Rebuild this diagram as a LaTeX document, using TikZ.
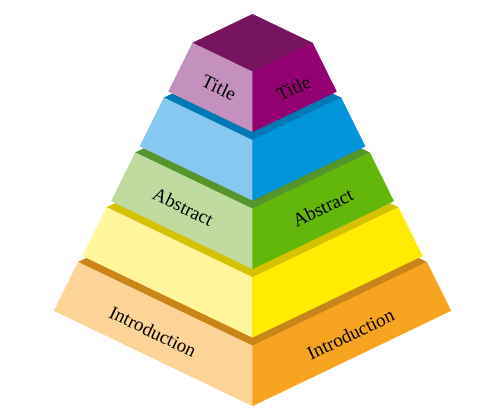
\documentclass[tikz,border=0pt]{standalone}
\usepackage{fontspec}
\setmainfont{Liberation Serif}
\usetikzlibrary{calc}
\definecolor{tTop}{HTML}{76145F}
\definecolor{tLeft}{HTML}{C490BE}
\definecolor{tRight}{HTML}{930070}
\definecolor{bTop}{HTML}{0079B4}
\definecolor{bLeft}{HTML}{86C8F1}
\definecolor{bRight}{HTML}{0095DA}
\definecolor{gTop}{HTML}{55952C}
\definecolor{gLeft}{HTML}{BFDBA0}
\definecolor{gRight}{HTML}{62B70A}
\definecolor{yTop}{HTML}{D5C200}
\definecolor{yLeft}{HTML}{FFF59A}
\definecolor{yRight}{HTML}{FFEC00}
\definecolor{oTop}{HTML}{C98518}
\definecolor{oLeft}{HTML}{FDD497}
\definecolor{oRight}{HTML}{F7A520}
\newcommand\pyrlayer[4]{%
  \pgfmathsetmacro\wt{60+28.6*#1}%
  \pgfmathsetmacro\wb{\wt+24}%
  \pgfmathsetmacro\yt{43+54.8*#1}%
  \pgfmathsetmacro\yb{\yt+48.5}%
  \pgfmathsetmacro\yback{\yt-0.48*\wt}%
  \pgfmathsetmacro\yfront{\yt+0.48*\wt}%
  \pgfmathsetmacro\ybfront{\yb+0.48*\wb}%
  \pgfmathsetmacro\xtl{252.5-\wt}%
  \pgfmathsetmacro\xtr{252.5+\wt}%
  \pgfmathsetmacro\xbl{252.5-\wb}%
  \pgfmathsetmacro\xbr{252.5+\wb}%
  \coordinate (l#1back) at (252.5,\yback);
  \coordinate (l#1tl) at (\xtl,\yt);
  \coordinate (l#1tr) at (\xtr,\yt);
  \coordinate (l#1tf) at (252.5,\yfront);
  \coordinate (l#1bl) at (\xbl,\yb);
  \coordinate (l#1br) at (\xbr,\yb);
  \coordinate (l#1bf) at (252.5,\ybfront);
  \filldraw[face=#2] (l#1back) -- (l#1tl) -- (l#1tf) -- (l#1tr) -- cycle;
  \filldraw[face=#3] (l#1tl) -- (l#1tf) -- (l#1bf) -- (l#1bl) -- cycle;
  \filldraw[face=#4] (l#1tr) -- (l#1tf) -- (l#1bf) -- (l#1br) -- cycle;
}
% point on a face: layer #1, side #2 (l or r), fraction #3 out from the centre edge, fraction #4 down
\newcommand\facept[4]{($($(l#1tf)!#3!(l#1t#2)$)!#4!($(l#1bf)!#3!(l#1b#2)$)$)}
\tikzset{
  face/.style={fill=#1, draw=#1, line width=0.3pt, line join=miter},
  lbl/.style={font=\fontsize{19}{19}\selectfont, text=black, inner sep=0pt},
  lblL/.style={lbl, rotate=-25.6},
  lblR/.style={lbl, rotate=25.6}
}
\begin{document}
\begin{tikzpicture}[x=1pt,y=-1pt]
\useasboundingbox (0,0) rectangle (500,411);
\pyrlayer{4}{oTop}{oLeft}{oRight}
\pyrlayer{3}{yTop}{yLeft}{yRight}
\pyrlayer{2}{gTop}{gLeft}{gRight}
\pyrlayer{1}{bTop}{bLeft}{bRight}
\pyrlayer{0}{tTop}{tLeft}{tRight}
\node[lblL] (titleL) at \facept{0}{l}{0.46}{0.53} {Title};
\node[lblR] (titleR) at \facept{0}{r}{0.55}{0.60} {Title};
\node[lblL] (absL) at \facept{2}{l}{0.534}{0.52} {Abstract};
\node[lblR] (absR) at \facept{2}{r}{0.54}{0.54} {Abstract};
\node[lblL] (introL) at \facept{4}{l}{0.53}{0.556} {Introduction};
\node[lblR] (introR) at \facept{4}{r}{0.52}{0.59} {Introduction};
\end{tikzpicture}
\end{document}
